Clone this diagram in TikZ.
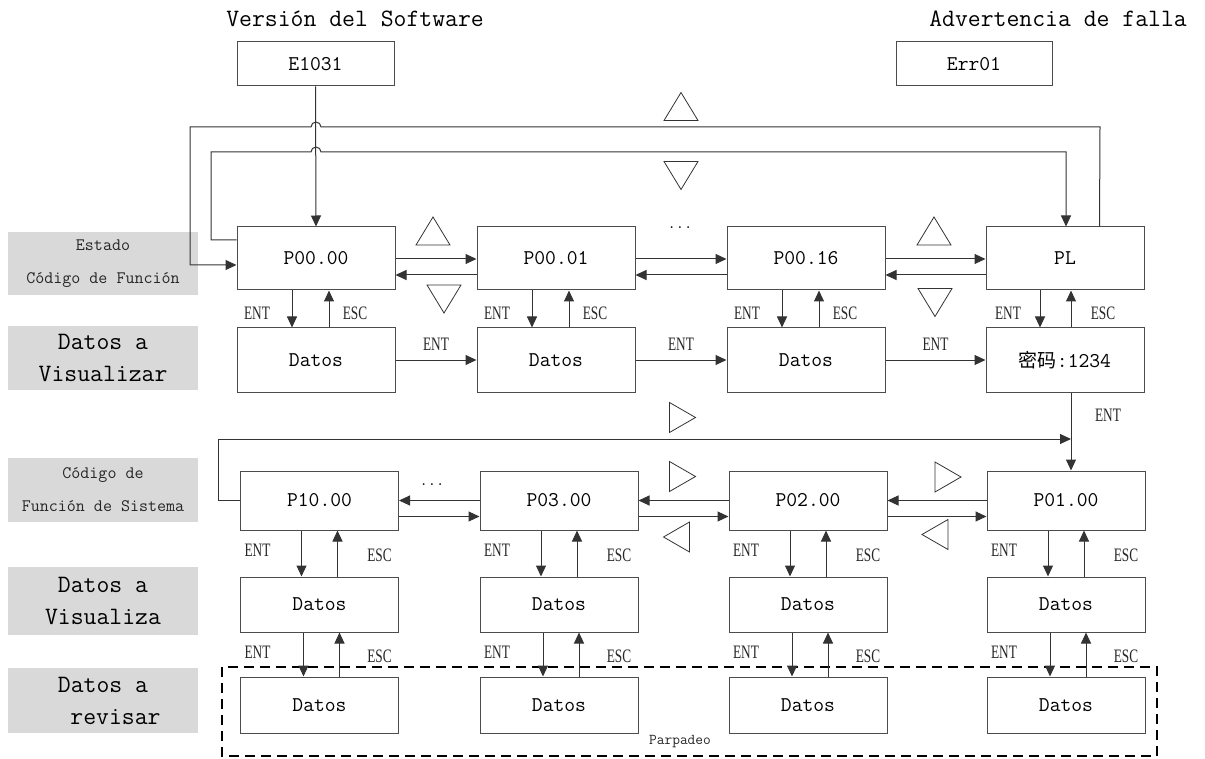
\documentclass[tikz,border=0pt]{standalone}
\usepackage{fontspec}
\setmainfont{Liberation Serif}
\newfontfamily\cjkfont{Noto Sans CJK SC}
\newfontfamily\keyfont[FakeStretch=0.7]{Liberation Serif}
\usetikzlibrary{arrows.meta,calc}
\begin{document}
\begin{tikzpicture}[x=1pt,y=-1pt,
  line/.style={draw=black!80, line width=1pt},
  arr/.style={line, -{Triangle[length=11pt,width=10pt]}},
  box/.style={draw=black!70, line width=1pt, minimum width=158pt, minimum height=63pt, inner sep=0pt,
     font=\ttfamily\fontsize{21}{21}\selectfont, text=black},
  key/.style={font=\keyfont\fontsize{19}{19}\selectfont, text=black!85, inner sep=0pt},
  title/.style={font=\ttfamily\fontsize{25}{25}\selectfont, text=black, inner sep=0pt},
  labsmall/.style={fill=black!15, minimum width=190pt, inner sep=0pt, align=center, text=black!85,
     font=\ttfamily\fontsize{17.5}{33}\selectfont},
  labbig/.style={fill=black!15, minimum width=190pt, inner sep=0pt, align=center, text=black,
     font=\ttfamily\fontsize{25}{32}\selectfont},
  tri/.style={draw=black!80, line width=0.8pt},
  triup/.pic={\draw[tri] (-17,14) -- (17,14) -- (0,-14) -- cycle;},
  tridown/.pic={\draw[tri] (-17,-14) -- (17,-14) -- (0,14) -- cycle;},
  triright/.pic={\draw[tri] (-13,-15) -- (-13,15) -- (13,0) -- cycle;},
  trileft/.pic={\draw[tri] (13,-15) -- (13,15) -- (-13,0) -- cycle;},
]
\useasboundingbox (0,0) rectangle (1205,759);

% titles
\node[title] (t1) at (355,19) {Versión del Software};
\node[title] (t2) at (1058,19) {Advertencia de falla};
\node[box, minimum height=44pt, minimum width=157pt] (E) at (315.5,64) {E1031};
\node[box, minimum height=44pt, minimum width=156pt] (Err) at (974,64) {Err01};

% left labels
\node[labsmall, minimum height=63pt] (L1) at (103,263.5) {Estado\\Código de Función};
\node[labbig, minimum height=64pt] (L2) at (103,358) {Datos a\\Visualizar};
\node[labsmall, minimum height=64pt] (L3) at (103,490) {Código de\\Función de Sistema};
\node[labbig, minimum height=68pt] (L4) at (103,601) {Datos a\\Visualiza};
\node[labbig, minimum height=65pt] (L5) at (103,700.5) {Datos a\\\hspace*{1em}revisar};

% row 1
\node[box] (P0) at (316,258.5) {P00.00};
\node[box] (P1) at (556,258.5) {P00.01};
\node[box] (P16) at (806,258.5) {P00.16};
\node[box] (PL) at (1065,258.5) {PL};
% row 2
\node[box, minimum height=64pt] (D0) at (316,360) {Datos};
\node[box, minimum height=64pt] (D1) at (556,360) {Datos};
\node[box, minimum height=64pt] (D16) at (806,360) {Datos};
\node[box, minimum height=64pt] (PW) at (1065,360) {{\cjkfont\fontsize{19}{19}\selectfont 密码}:1234};
% row 3
\node[box, minimum height=59pt] (S10) at (319.5,500.5) {P10.00};
\node[box, minimum height=59pt] (S3) at (559,500.5) {P03.00};
\node[box, minimum height=59pt] (S2) at (808,500.5) {P02.00};
\node[box, minimum height=59pt] (S1) at (1066,500.5) {P01.00};
% row 4
\node[box, minimum height=55pt] (V10) at (319.5,604.5) {Datos};
\node[box, minimum height=55pt] (V3) at (559,604.5) {Datos};
\node[box, minimum height=55pt] (V2) at (808,604.5) {Datos};
\node[box, minimum height=55pt] (V1) at (1066,604.5) {Datos};
% row 5
\node[box, minimum height=56pt] (R10) at (319.5,705) {Datos};
\node[box, minimum height=56pt] (R3) at (559,705) {Datos};
\node[box, minimum height=56pt] (R2) at (808,705) {Datos};
\node[box, minimum height=56pt] (R1) at (1066,705) {Datos};

% blinking frame
\draw[black, line width=2.5pt, dash pattern=on 10pt off 6pt] (222,667) rectangle (1157,756);
\node[font=\ttfamily\fontsize{15}{15}\selectfont, text=black!85, inner sep=0pt] (blink) at (680,742) {Parpadeo};

% top loops
\draw[arr] ($(PL.north west)+(114,0)$) -- (1100,127) -- (321,127)
   arc[start angle=0, end angle=-180, radius=5] -- (190,127) |- ($(P0.west)+(0,6.5)$);
\draw[arr] ($(P0.west)+(0,-18.5)$) -| (211,152) -- (311,152)
   arc[start angle=180, end angle=360, radius=5] -- (1066,152) -- ($(PL.north)+(1,0)$);
\draw[arr] (E.south) -- (P0.north);
\pic at (681,106.5) {triup};
\pic at (681,175.5) {tridown};

% row 1 horizontal
\foreach \a/\b in {P0/P1,P1/P16,P16/PL}{
  \draw[arr] ($(\a.east)+(0,0.5)$) -- ($(\b.west)+(0,0.5)$);
  \draw[arr] ($(\b.west)+(0,16.5)$) -- ($(\a.east)+(0,16.5)$);
}
\pic at (433,231) {triup};
\pic at (444,299) {tridown};
\pic at (934,231) {triup};
\pic at (935,302.5) {tridown};
\node[font=\ttfamily\fontsize{16}{16}\selectfont, inner sep=0pt] (dots1) at (680,228) {...};

% row 1 -> row 2
\foreach \a/\b in {P0/D0,P1/D1,P16/D16}{
  \draw[arr] ($(\a.south)+(-24,0)$) -- ($(\b.north)+(-24,0)$);
  \draw[arr] ($(\b.north)+(13,0)$) -- ($(\a.south)+(13,0)$);
  \node[key] at ($(\a.south)+(-59,23)$) {ENT};
  \node[key] at ($(\a.south)+(39,23)$) {ESC};
}
\draw[arr] ($(PL.south)+(-25,0)$) -- ($(PW.north)+(-25,0)$);
\draw[arr] ($(PW.north)+(6,0)$) -- ($(PL.south)+(6,0)$);
\node[key] at ($(PL.south)+(-57,23)$) {ENT};
\node[key] at ($(PL.south)+(38,23)$) {ESC};

% row 2 horizontal
\foreach \a/\b in {D0/D1,D1/D16,D16/PW}{
  \draw[arr] (\a.east) -- (\b.west) node[midway, above=9pt, key] {ENT};
}

% password -> P01.00 and row 3 loop
\coordinate (j) at (1071,439);
\draw[arr] (PW.south -| j) -- (S1.north -| j);
\node[key] at (1108,415) {ENT};
\draw[arr] (S10.west) -| (218,439) -- (j);
\pic at (682.5,417.5) {triright};

% row 3 horizontal
\foreach \a/\b in {S10/S3,S3/S2,S2/S1}{
  \draw[arr] (\b.west) -- (\a.east);
  \draw[arr] ($(\a.east)+(0,16)$) -- ($(\b.west)+(0,16)$);
}
\node[font=\ttfamily\fontsize{16}{16}\selectfont, inner sep=0pt] (dots2) at (432,485) {...};
\pic at (682.5,476.5) {triright};
\pic at (676.5,537) {trileft};
\pic at (948,477) {triright};
\pic at (935,534.5) {trileft};

% rows 3 -> 4 -> 5
\foreach \a/\b/\c in {S10/V10/R10,S3/V3/R3,S2/V2/R2,S1/V1/R1}{
  \draw[arr] ($(\a.south)+(-18,0)$) -- ($(\b.north)+(-18,0)$);
  \draw[arr] ($(\b.north)+(18,0)$) -- ($(\a.south)+(18,0)$);
  \node[key] at ($(\a.south)+(-62,20)$) {ENT};
  \node[key] at ($(\a.south)+(60,25)$) {ESC};
  \draw[arr] ($(\b.south)+(-16,0)$) -- ($(\c.north)+(-16,0)$);
  \draw[arr] ($(\c.north)+(20,0)$) -- ($(\b.south)+(20,0)$);
  \node[key] at ($(\b.south)+(-62,20)$) {ENT};
  \node[key] at ($(\b.south)+(60,24)$) {ESC};
}
\end{tikzpicture}
\end{document}
